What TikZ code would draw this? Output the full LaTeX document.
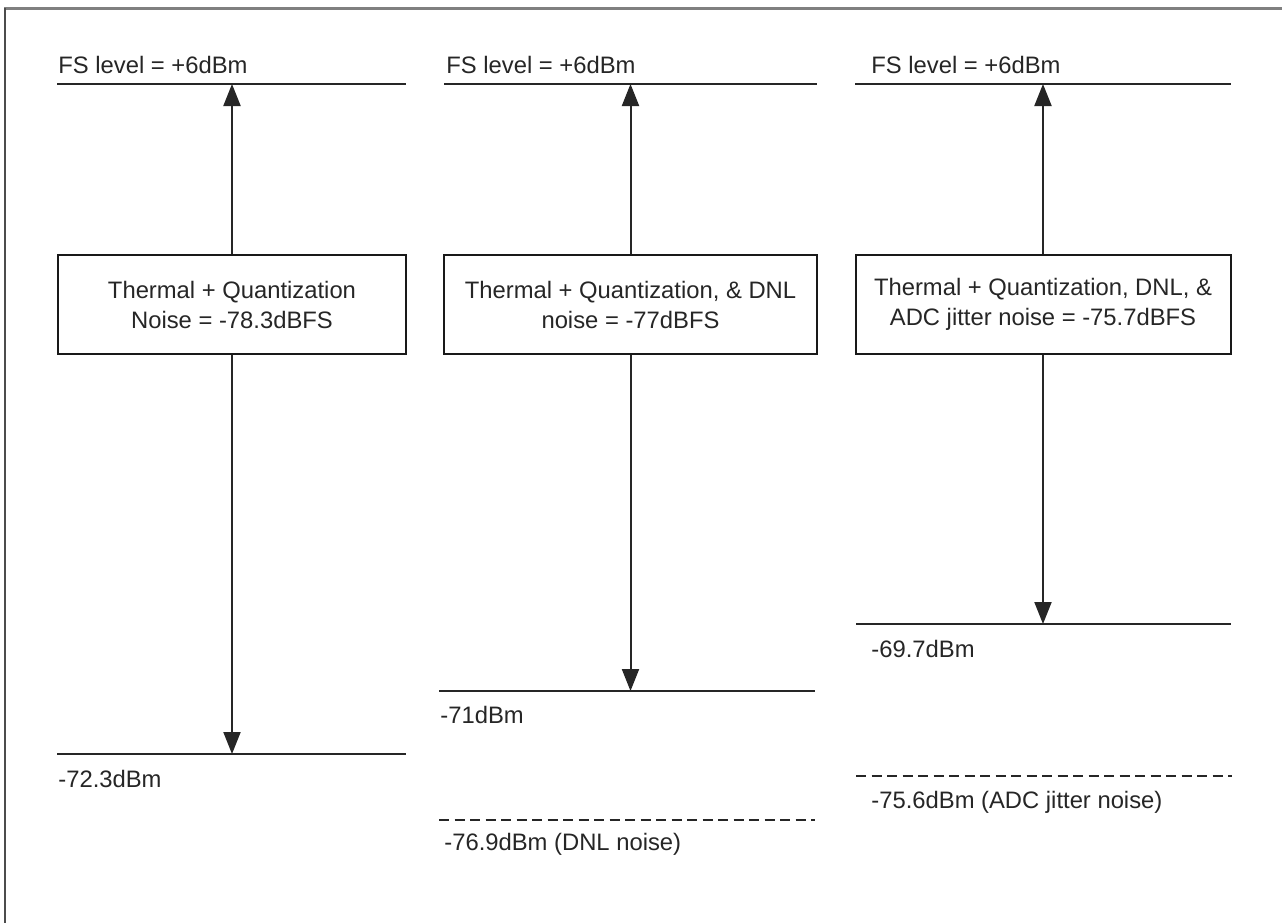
\documentclass[tikz,border=0pt]{standalone}
\usepackage{fontspec}
\setmainfont{Liberation Sans}
\usetikzlibrary{arrows.meta}
\begin{document}
\begin{tikzpicture}[x=0.5pt,y=-0.5pt,
  lvl/.style={line width=1pt,black!85},
  dlvl/.style={lvl,dash pattern=on 5pt off 2.75pt},
  arr/.style={line width=1pt,black!85,-{Triangle[length=11pt,width=8.5pt]}},
  box/.style={draw=black!90,line width=1pt,inner sep=0pt,minimum height=49.5pt,align=center,text=black!85,font=\fontsize{11.9}{15}\selectfont},
  lab/.style={anchor=base west,inner sep=0pt,text=black!85,font=\fontsize{11.9}{15}\selectfont}]
\useasboundingbox (0,0) rectangle (1282,923);
\fill[white] (0,0) rectangle (1282,923);
% frame
\draw[black!50,line width=1.5pt] (4,8) -- (1282,8);
\draw[black!70,line width=1pt] (5,8) -- (5,923);

% level coordinates
\coordinate (t1a) at (57,84);  \coordinate (t1b) at (406,84);
\coordinate (t2a) at (444,84); \coordinate (t2b) at (817,84);
\coordinate (t3a) at (855,84); \coordinate (t3b) at (1231,84);
\coordinate (n1a) at (57,754); \coordinate (n1b) at (406,754);
\coordinate (n2a) at (439,691); \coordinate (n2b) at (815,691);
\coordinate (n3a) at (856,624); \coordinate (n3b) at (1231,624);
\coordinate (d2a) at (439,820); \coordinate (d2b) at (815,820);
\coordinate (d3a) at (856,776); \coordinate (d3b) at (1232,776);

\draw[lvl] (t1a) -- (t1b);
\draw[lvl] (t2a) -- (t2b);
\draw[lvl] (t3a) -- (t3b);
\draw[lvl] (n1a) -- (n1b);
\draw[lvl] (n2a) -- (n2b);
\draw[lvl] (n3a) -- (n3b);
\draw[dlvl] (d2a) -- (d2b);
\draw[dlvl] (d3a) -- (d3b);

% boxes
\node[box,minimum width=174pt] (b1) at (232,304.5) {Thermal + Quantization\\Noise = -78.3dBFS};
\node[box,minimum width=186.5pt] (b2) at (630.5,304.5) {Thermal + Quantization, \& DNL\\noise = -77dBFS};
\node[box,minimum width=187.5pt] (b3) at (1043,304.5) {Thermal + Quantization, DNL, \&\\ADC jitter noise = -75.7dBFS};

% arrows
\draw[arr] (b1.north) -- (b1.north |- t1a);
\draw[arr] (b1.south) -- (b1.south |- n1a);
\draw[arr] (b2.north) -- (b2.north |- t2a);
\draw[arr] (b2.south) -- (b2.south |- n2a);
\draw[arr] (b3.north) -- (b3.north |- t3a);
\draw[arr] (b3.south) -- (b3.south |- n3a);

% labels
\node[lab] (fs1) at (58,73) {FS level = +6dBm};
\node[lab] (fs2) at (446,73) {FS level = +6dBm};
\node[lab] (fs3) at (871,73) {FS level = +6dBm};
\node[lab] (l1) at (58,787) {-72.3dBm};
\node[lab] (l2) at (440,723) {-71dBm};
\node[lab] (l2d) at (444,850) {-76.9dBm (DNL noise)};
\node[lab] (l3) at (871,657) {-69.7dBm};
\node[lab] (l3d) at (871,808) {-75.6dBm (ADC jitter noise)};
\end{tikzpicture}
\end{document}
